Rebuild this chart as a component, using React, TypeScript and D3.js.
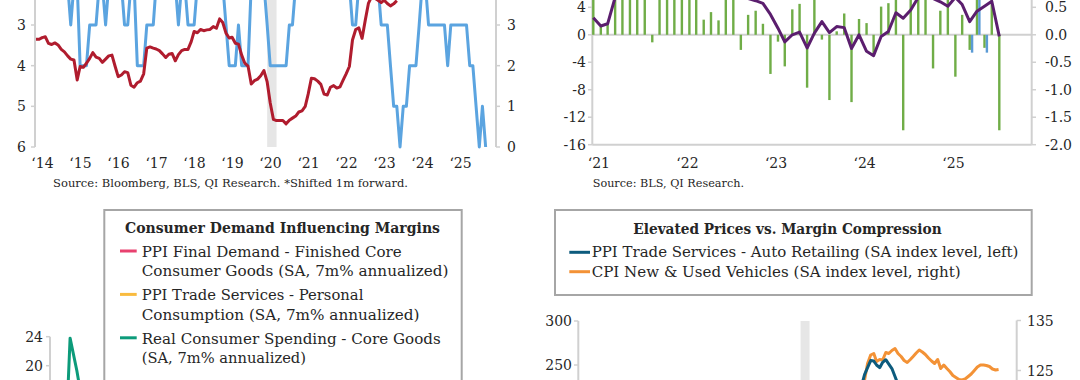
import React from "react";
import * as d3 from "d3";

const FONT = "'DejaVu Serif', 'Liberation Serif', serif";
const TEXT = "#262626";
const AXIS = "#d0d0d0";

// ---------------- Top-left panel data ----------------
const tlStart = "2014-01";
const tlRed = [
  3.35, 3.35, 3.31, 3.29, 3.45, 3.48, 3.44, 3.49, 3.6, 3.66, 3.76, 3.84,
  3.86, 4.35, 4.02, 4.04, 3.94, 3.82, 3.68, 3.79, 3.82, 3.92, 3.84, 3.76,
  3.74, 4.02, 4.27, 4.23, 4.15, 4.17, 4.48, 4.53, 4.42, 4.38, 4.2, 3.57,
  3.54, 3.57, 3.59, 3.63, 3.71, 3.8, 3.72, 3.7, 3.88, 3.73, 3.63, 3.6,
  3.6, 3.41, 3.16, 3.19, 3.11, 3.14, 3.12, 3.11, 3.04, 3.08, 2.85, 2.94,
  3.2, 3.32, 3.3, 3.45, 3.47, 3.74, 3.94, 4.01, 4.45, 4.37, 4.33, 4.25,
  4.12, 4.4, 4.91, 5.32, 5.35, 5.35, 5.35, 5.43, 5.34, 5.29, 5.24, 5.14,
  5.11, 5.0, 4.7, 4.31, 4.32, 4.38, 4.46, 4.7, 4.72, 4.53, 4.49, 4.55,
  4.52, 4.35, 4.2, 4.02, 3.37, 3.11, 3.07, 3.33, 2.88, 2.47, 2.3, 2.34,
  2.39, 2.45, 2.39, 2.47, 2.53, 2.48, 2.4,
];
const tlBlue = [
  4, 4, 4, 4, 4, 4, 4, 4, 4, 4, 4, 3,
  4, 4, 2, 2, 2, 3, 3, 3, 4, 4, 3, 4,
  4, 4, 4, 4, 3, 3, 4, 4, 2, 2, 2, 3,
  3, 3, 4, 4, 4, 4, 4, 4, 4, 3, 4, 4,
  3, 3, 3, 4, 4, 4, 4, 4, 4, 4, 4, 4,
  3, 2, 2, 2, 3, 2, 2, 2, 4, 4, 4, 4,
  4, 3, 2, 2, 2, 2, 2, 2, 3, 3, 4, 4,
  4, 4, 4, 4, 4, 4, 4, 4, 4, 4, 4, 4,
  4, 4, 4, 4, 3, 3, 4, 4, 4, 4, 4, 4,
  4, 3, 3, 3, 2, 1, 1, 0, 1, 1, 2, 2,
  2, 3, 4, 4, 3, 3, 3, 3, 3, 3, 2, 3,
  3, 3, 3, 3, 3, 2, 2, 1, 0, 1, 0,
];
const tlYears = [2014, 2015, 2016, 2017, 2018, 2019, 2020, 2021, 2022, 2023, 2024, 2025];
const tlLeftTicks = [3, 4, 5, 6];
const tlRightTicks = [0, 1, 2, 3];
const tlRecession = ["2020-02", "2020-05"];
const tlSource = "Source: Bloomberg, BLS, QI Research. *Shifted 1m forward.";

// ---------------- Top-right panel data ----------------
const trStart = "2021-01";
const trGreen = [
  7, 1.2, 1.5, 9, 10, 8, 7, 9, -1.1, 8, 6, 10,
  8, 7, 6.5, 2.2, 3.3, 2.1, 6, 9, -2.2, 2.9, 3.5, 1.6,
  -5.7, -1.0, -4.6, 3.7, 4.5, -7.7, 7, -0.7, -9.5, 0.5, 3.1, -9.8,
  2.3, 1.7, -3.0, 4.1, 4.6, 6, -13.9, 8, 9, 7, -4.9, 3.5,
  8, -6.1, 2.9, -2.2, 10, -1.9, 9, -13.9,
];
const trPurple = [
  0.31, 0.16, 0.2, 0.68, 1.0, 1.3, 1.4, 1.5, 1.5, 1.6, 1.7, 1.8,
  1.8, 1.7, 1.6, 1.5, 1.4, 1.3, 1.2, 1.0, 0.85, 0.66, 0.62, 0.57,
  0.37, 0.12, -0.13, 0.0, 0.05, -0.24, 0.03, 0.24, 0.04, 0.15, 0.13, -0.25,
  0.0, -0.3, -0.38, -0.03, 0.06, 0.4, 0.3, 0.45, 0.68, 0.8, 0.66, 0.6,
  0.52, 0.68, 0.55, 0.24, 0.43, 0.52, 0.61, -0.03,
];
const trBlueStart = "2025-04";
const trBlue = [-2.6, 10, -2.6];
const trYears = [2021, 2022, 2023, 2024, 2025];
const trLeftTicks = [4, 0, -4, -8, -12, -16];
const trRightTicks = [0.5, 0, -0.5, -1, -1.5, -2];
const trSource = "Source: BLS, QI Research.";

// ---------------- Bottom-left panel data ----------------
const blTitle = "Consumer Demand Influencing Margins";
const blLegendLines = [
  ["PPI Final Demand - Finished Core", "Consumer Goods (SA, 7m% annualized)"],
  ["PPI Trade Services - Personal", "Consumption (SA, 7m% annualized)"],
  ["Real Consumer Spending - Core Goods", "(SA, 7m% annualized)"],
];
const blLegendColors = ["#e8416f", "#f9bb3f", "#0c9b7a"];
const blTealStart = "2020-07";
const blTeal = [-2, 0.5, 2.3, 23.8, 19.3, 14, 11];
const blTicks = [24, 20];

// ---------------- Bottom-right panel data ----------------
const brTitle = "Elevated Prices vs. Margin Compression";
const brLegendLines = [
  "PPI Trade Services - Auto Retailing (SA index level, left)",
  "CPI New & Used Vehicles (SA index level, right)",
];
const brLegendColors = ["#0d5b7d", "#f39236"];
const brBlueStart = "2021-10";
const brBlue = [226, 239, 247, 255, 254.5, 250, 247, 253, 256, 251, 246, 237, 228];
const brOrangeStart = "2021-10";
const brOrange = [
  120.5, 123.1, 126.4, 128.1, 128.4, 126.8, 127.2, 127.1, 128.6, 128.4, 129.0, 129.4,
  128.4, 127.8, 127.0, 126.6, 127.2, 127.8, 128.5, 129.1, 128.7, 128.2, 127.5, 126.9,
  126.4, 127.2, 125.4, 126.1, 125.4, 124.8, 124.0, 123.6, 123.2, 123.1, 123.3, 123.8,
  124.3, 125.0, 125.7, 126.1, 126.1, 126.0, 125.8, 125.3, 125.1, 125.2,
];
const brLeftTicks = [300, 250];
const brRightTicks = [135, 125];
const brRecession = ["2020-02", "2020-05"];

// ---------------- helpers ----------------
function monthAt(start: string, i: number) {
  const [y, m] = start.split("-").map(Number);
  return new Date(y, m - 1 + i, 1);
}
const yearLabel = (y: number) => "\u2018" + String(y).slice(2);

export default function App() {
  // ===== Top-left =====
  const tlX = d3.scaleTime().domain([new Date(2014, 0, 1), new Date(2026, 0, 1)]).range([36, 492]);
  const tlYL = d3.scaleLinear().domain([3, 6]).range([25, 147]);
  const tlYR = d3.scaleLinear().domain([0, 3]).range([147, 25]);
  const tlRedPath = d3.line<number>().x((_, i) => tlX(monthAt(tlStart, i))).y((v) => tlYL(v))(tlRed) || "";
  const tlBluePath = d3.line<number>().x((_, i) => tlX(monthAt(tlStart, i))).y((v) => tlYR(v))(tlBlue) || "";
  const tlRecX0 = tlX(monthAt(tlRecession[0], 0));
  const tlRecX1 = tlX(monthAt(tlRecession[1], 0));

  // ===== Top-right =====
  const trX = d3.scaleTime().domain([new Date(2021, 0, 1), new Date(2025, 7, 1)]).range([593.3, 999.3]);
  const trYL = d3.scaleLinear().domain([-16, 4]).range([144.7, 7.3]);
  const trYR = d3.scaleLinear().domain([-2, 0.5]).range([144.7, 7.3]);
  const trPurplePath = d3.line<number>().x((_, i) => trX(monthAt(trStart, i))).y((v) => trYR(v))(trPurple) || "";
  const barW = 2.4;

  // ===== Bottom-left =====
  const blX = d3.scaleTime().domain([new Date(2020, 6, 1), new Date(2026, 0, 1)]).range([50, 489]);
  const blY = d3.scaleLinear().domain([20, 24]).range([365.7, 336.7]);
  const blTealPath = d3.line<number>().x((_, i) => blX(monthAt(blTealStart, i))).y((v) => blY(v))(blTeal) || "";

  // ===== Bottom-right =====
  const brX = d3.scaleTime().domain([new Date(2014, 0, 1), new Date(2026, 0, 1)]).range([578, 1017]);
  const brYL = d3.scaleLinear().domain([250, 300]).range([365, 321]);
  const brYR = d3.scaleLinear().domain([125, 135]).range([370.5, 320.5]);
  const brBluePath = d3.line<number>().x((_, i) => brX(monthAt(brBlueStart, i))).y((v) => brYL(v))(brBlue) || "";
  const brOrangePath = d3.line<number>().x((_, i) => brX(monthAt(brOrangeStart, i))).y((v) => brYR(v))(brOrange) || "";

  const blLineLen = [
    [260, 306.7],
    [221.7, 277.7],
    [299, 164.3],
  ];
  const brLineLen = [426.7, 369];

  return (
    <svg
      width={1080}
      height={380}
      viewBox="0 0 1080 380"
      style={{ position: "fixed", left: 0, top: 0, background: "#fff" }}
      fontFamily={FONT}
    >
      <rect x={0} y={0} width={1080} height={380} fill="#fff" />

      {/* ================= TOP-LEFT ================= */}
      <rect x={tlRecX0} y={-10} width={tlRecX1 - tlRecX0} height={157} fill="#e6e6e6" />
      <line x1={35} x2={35} y1={-10} y2={147} stroke={AXIS} strokeWidth={2} />
      <line x1={496} x2={496} y1={-10} y2={147} stroke={AXIS} strokeWidth={2} />
      {tlLeftTicks.map((t) => (
        <g key={"tll" + t}>
          <line x1={31} x2={35} y1={tlYL(t)} y2={tlYL(t)} stroke={AXIS} strokeWidth={1.5} />
          <text x={26} y={tlYL(t)} dy="0.36em" textAnchor="end" fontSize={14} fill={TEXT}>
            {t}
          </text>
        </g>
      ))}
      {tlRightTicks.map((t) => (
        <g key={"tlr" + t}>
          <line x1={496} x2={500} y1={tlYR(t)} y2={tlYR(t)} stroke={AXIS} strokeWidth={1.5} />
          <text x={507} y={tlYR(t)} dy="0.36em" textAnchor="start" fontSize={14} fill={TEXT}>
            {t}
          </text>
        </g>
      ))}
      <path d={tlBluePath} fill="none" stroke="#5ba4e0" strokeWidth={3} strokeLinejoin="round" />
      <path d={tlRedPath} fill="none" stroke="#b01c2e" strokeWidth={3} strokeLinejoin="round" />
      {tlYears.map((y) => (
        <text key={"tly" + y} x={tlX(new Date(y, 0, 1)) + 6.5} y={168} textAnchor="middle" fontSize={14} fill={TEXT}>
          {yearLabel(y)}
        </text>
      ))}
      <text x={53} y={187} fontSize={11.5} fill={TEXT} textLength={355} lengthAdjust="spacingAndGlyphs">
        {tlSource}
      </text>

      {/* ================= TOP-RIGHT ================= */}
      <line x1={592.3} x2={1031.7} y1={trYL(0)} y2={trYL(0)} stroke={AXIS} strokeWidth={2} />
      <line x1={592.3} x2={1031.7} y1={trYL(-16)} y2={trYL(-16)} stroke={AXIS} strokeWidth={2} />
      <line x1={592.3} x2={592.3} y1={-10} y2={trYL(-16)} stroke={AXIS} strokeWidth={2} />
      <line x1={1031.7} x2={1031.7} y1={-10} y2={trYL(-16)} stroke={AXIS} strokeWidth={2} />
      {trLeftTicks.map((t) => (
        <g key={"trl" + t}>
          <line x1={588} x2={592.3} y1={trYL(t)} y2={trYL(t)} stroke={AXIS} strokeWidth={1.5} />
          <text x={586} y={trYL(t)} dy="0.36em" textAnchor="end" fontSize={14} fill={TEXT}>
            {t}
          </text>
        </g>
      ))}
      {trRightTicks.map((t) => (
        <g key={"trr" + t}>
          <line x1={1031.7} x2={1036} y1={trYR(t)} y2={trYR(t)} stroke={AXIS} strokeWidth={1.5} />
          <text x={1045} y={trYR(t)} dy="0.36em" textAnchor="start" fontSize={14} fill={TEXT}>
            {t.toFixed(1)}
          </text>
        </g>
      ))}
      {trGreen.map((v, i) => {
        const x = trX(monthAt(trStart, i));
        const y0 = trYL(0);
        const y1 = trYL(v);
        return (
          <rect key={"g" + i} x={x - barW / 2} y={Math.min(y0, y1)} width={barW} height={Math.abs(y1 - y0)} fill="#70ad47" />
        );
      })}
      {trBlue.map((v, i) => {
        const x = trX(monthAt(trBlueStart, i));
        const y0 = trYL(0);
        const y1 = trYL(v);
        return (
          <rect key={"b" + i} x={x + barW / 2} y={Math.min(y0, y1)} width={barW} height={Math.abs(y1 - y0)} fill="#5b9bd5" />
        );
      })}
      <path d={trPurplePath} fill="none" stroke="#5b1e6e" strokeWidth={3} strokeLinejoin="round" />
      {trYears.map((y) => (
        <text key={"try" + y} x={trX(new Date(y, 0, 1)) + 5.6} y={168} textAnchor="middle" fontSize={14} fill={TEXT}>
          {yearLabel(y)}
        </text>
      ))}
      <text x={592.7} y={187} fontSize={11.5} fill={TEXT} textLength={151.3} lengthAdjust="spacingAndGlyphs">
        {trSource}
      </text>

      {/* ================= BOTTOM-LEFT ================= */}
      <line x1={50} x2={50} y1={blY(24)} y2={400} stroke={AXIS} strokeWidth={2} />
      {blTicks.map((t) => (
        <g key={"blt" + t}>
          <line x1={46} x2={50} y1={blY(t)} y2={blY(t)} stroke={AXIS} strokeWidth={1.5} />
          <text x={43} y={blY(t)} dy="0.36em" textAnchor="end" fontSize={14} fill={TEXT}>
            {t}
          </text>
        </g>
      ))}
      <path d={blTealPath} fill="none" stroke={blLegendColors[2]} strokeWidth={3} strokeLinejoin="round" />
      <rect x={104.3} y={210} width={357.4} height={220} fill="#fff" stroke="#a6a6a6" strokeWidth={2} />
      <text x={125} y={232.5} fontSize={14.5} fontWeight="bold" fill={TEXT} textLength={315} lengthAdjust="spacingAndGlyphs">
        {blTitle}
      </text>
      {blLegendLines.map((lines, i) => (
        <g key={"bll" + i}>
          <line x1={120} x2={136.7} y1={251 + 43.4 * i} y2={251 + 43.4 * i} stroke={blLegendColors[i]} strokeWidth={3} />
          {lines.map((ln, j) => (
            <text
              key={j}
              x={141.7}
              y={256.7 + 43.4 * i + 19.5 * j}
              fontSize={15}
              fill={TEXT}
              textLength={blLineLen[i][j]}
              lengthAdjust="spacingAndGlyphs"
            >
              {ln}
            </text>
          ))}
        </g>
      ))}

      {/* ================= BOTTOM-RIGHT ================= */}
      <rect
        x={brX(monthAt(brRecession[0], 0))}
        y={321}
        width={brX(monthAt(brRecession[1], 0)) - brX(monthAt(brRecession[0], 0))}
        height={80}
        fill="#e6e6e6"
      />
      <line x1={578.3} x2={578.3} y1={321} y2={400} stroke={AXIS} strokeWidth={2} />
      <line x1={1016.7} x2={1016.7} y1={320.5} y2={400} stroke={AXIS} strokeWidth={2} />
      {brLeftTicks.map((t) => (
        <g key={"brl" + t}>
          <line x1={574} x2={578.3} y1={brYL(t)} y2={brYL(t)} stroke={AXIS} strokeWidth={1.5} />
          <text x={572} y={brYL(t)} dy="0.36em" textAnchor="end" fontSize={14} fill={TEXT}>
            {t}
          </text>
        </g>
      ))}
      {brRightTicks.map((t) => (
        <g key={"brr" + t}>
          <line x1={1016.7} x2={1021} y1={brYR(t)} y2={brYR(t)} stroke={AXIS} strokeWidth={1.5} />
          <text x={1027} y={brYR(t)} dy="0.36em" textAnchor="start" fontSize={14} fill={TEXT}>
            {t}
          </text>
        </g>
      ))}
      <path d={brOrangePath} fill="none" stroke={brLegendColors[1]} strokeWidth={3} strokeLinejoin="round" />
      <path d={brBluePath} fill="none" stroke={brLegendColors[0]} strokeWidth={3} strokeLinejoin="round" />
      <rect x={555} y={210} width={476.7} height={85} fill="#fff" stroke="#a6a6a6" strokeWidth={2} />
      <text x={633.3} y={234} fontSize={14.5} fontWeight="bold" fill={TEXT} textLength={308.3} lengthAdjust="spacingAndGlyphs">
        {brTitle}
      </text>
      {brLegendLines.map((ln, i) => (
        <g key={"brlg" + i}>
          <line x1={569.3} x2={590} y1={252.3 + 19.4 * i} y2={252.3 + 19.4 * i} stroke={brLegendColors[i]} strokeWidth={3} />
          <text x={591.7} y={256.7 + 19.8 * i} fontSize={15} fill={TEXT} textLength={brLineLen[i]} lengthAdjust="spacingAndGlyphs">
            {ln}
          </text>
        </g>
      ))}
    </svg>
  );
}
